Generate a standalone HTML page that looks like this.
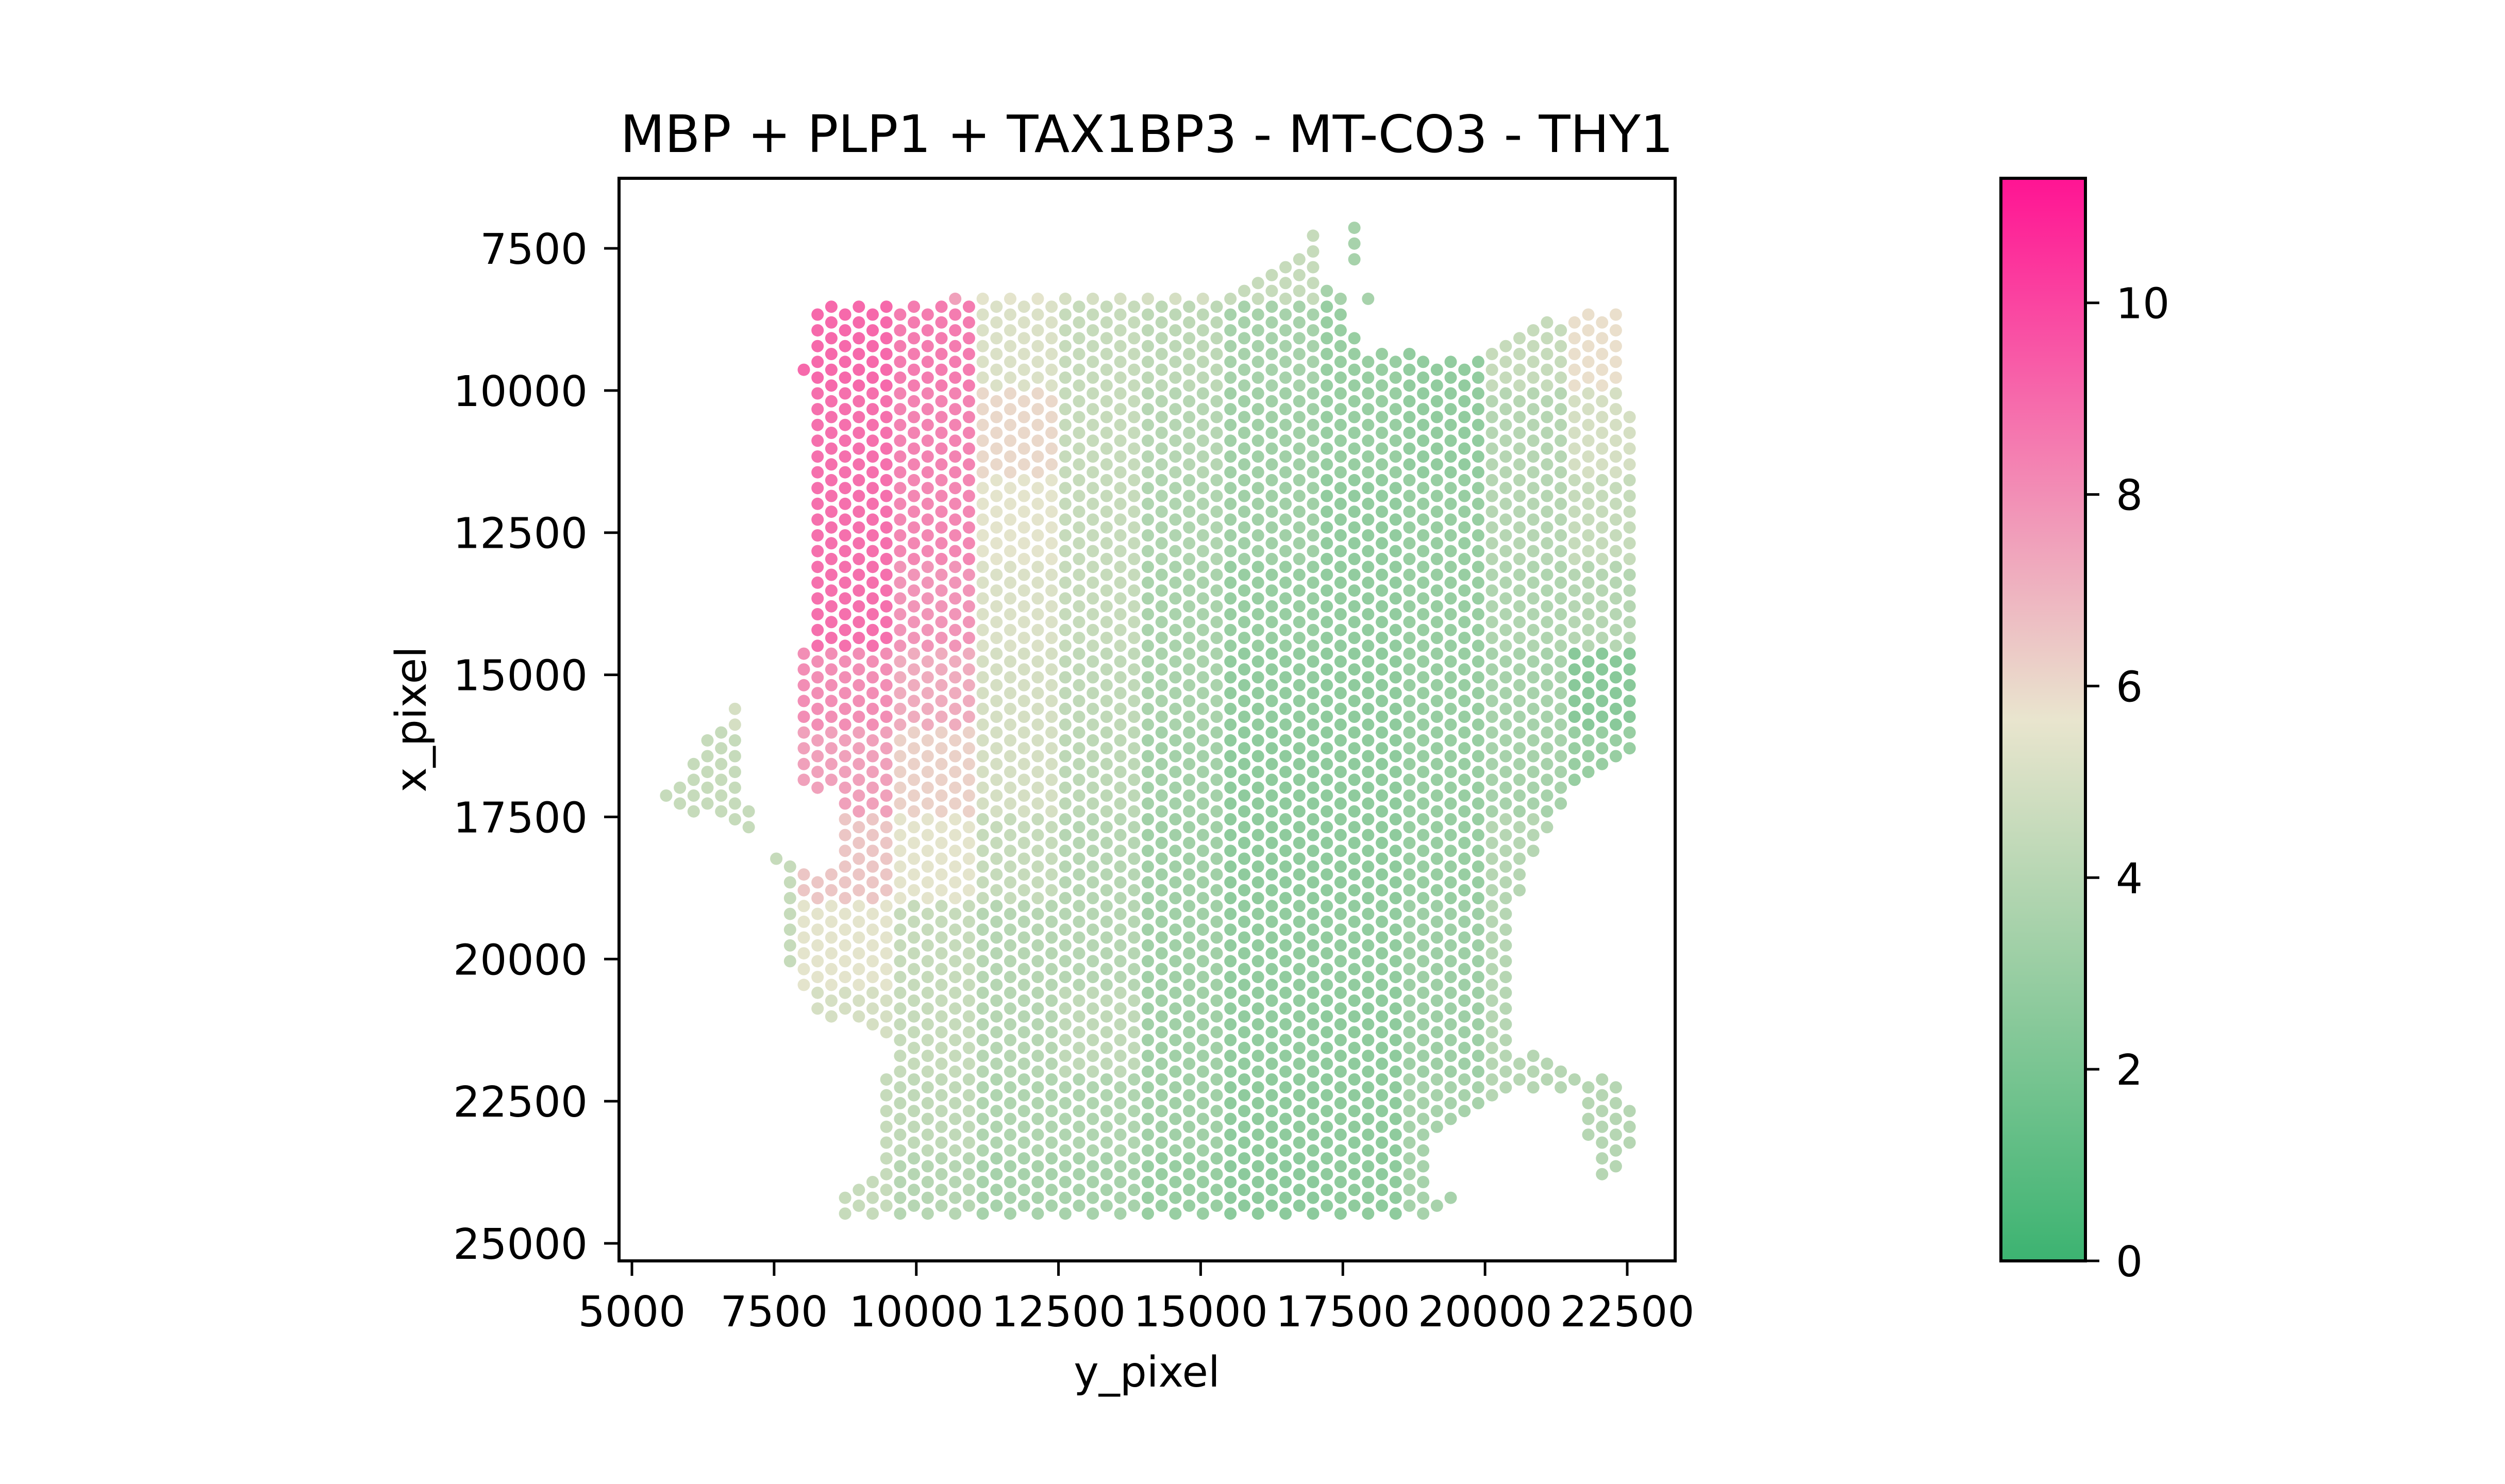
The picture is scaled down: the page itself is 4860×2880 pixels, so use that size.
<!DOCTYPE html>
<html><head><meta charset="utf-8"><style>
html,body{margin:0;padding:0;background:#fff}
svg{display:block}
text{font-family:"DejaVu Sans","Liberation Sans",sans-serif;fill:#000}
</style></head><body>
<svg id="chart" xmlns="http://www.w3.org/2000/svg" width="4860" height="2880" viewBox="0 0 4860 2880">
<defs>
<linearGradient id="cbgrad" x1="0" y1="1" x2="0" y2="0">
<stop offset="0" stop-color="#3cb371"/>
<stop offset="0.5" stop-color="#e9e5ce"/>
<stop offset="1" stop-color="#ff1493"/>
</linearGradient>
</defs>
<rect x="0" y="0" width="4860" height="2880" fill="#fff"/>
<text x="2225" y="295" font-size="100" text-anchor="middle">MBP + PLP1 + TAX1BP3 - MT-CO3 - THY1</text>
<g id="spots"></g>
<rect x="1201" y="346" width="2049" height="2101" fill="none" stroke="#000" stroke-width="6"/>
<g id="xticks"></g>
<g id="yticks"></g>
<text x="2225" y="2691" font-size="82" text-anchor="middle">y_pixel</text>
<text x="0" y="0" font-size="82" text-anchor="middle" transform="translate(826,1396) rotate(-90)">x_pixel</text>
<rect x="3882" y="346" width="164" height="2101" fill="url(#cbgrad)" stroke="#000" stroke-width="6"/>
<g id="cbticks"></g>
</svg>
<script>
// ---- chart data ----
const xTickValues = [5000, 7500, 10000, 12500, 15000, 17500, 20000, 22500];
const yTickValues = [7500, 10000, 12500, 15000, 17500, 20000, 22500, 25000];
const cbTickValues = [0, 2, 4, 6, 8, 10];
const colorMin = 0;
const colorMax = 11.3;
// tissue outline (y_pixel, x_pixel) in data coordinates
const tissueOutlineY = [7919,8146,8146,10657,10657,15281,16550,16958,17185,17185,17547,17819,19270,19814,20539,21627,22398,22398,22670,22670,21627,21174,20766,20467,20467,21536,22171,22670,22670,22443,22443,22171,21944,21944,21718,21718,21446,20539,20222,19814,19043,19043,19497,19497,19179,8645,8645,9116,9352,9352,9596,9370,8935,8164,7919,7665,7665,7439,7439,8391,8645,8645,8164,7919,7919,8146,8146,7919];
const tissueOutlineX = [9522,9522,8434,8434,8298,8298,7709,7255,7255,8207,8388,9204,9386,9522,8932,8615,8660,10383,10383,16457,16956,17772,18497,19449,21534,21987,22033,22849,23347,23347,23800,23909,23909,23211,23211,22350,22305,22259,22486,22758,23211,24254,24118,24344,24598,24598,24254,23800,23755,22259,21670,21262,21081,20990,20537,20129,18542,18361,18089,18452,18452,17182,16956,16820,14417,14417,9748,9748];
const islandOutlineY = [5535,6759,6940,6940,7167,7167,6940,5535];
const islandOutlineX = [17137,15505,15505,17092,17273,17745,17745,17200];
const outlierBoxA = [17620, 7050, 17760, 7900];
const outlierBoxB = [17900, 8150, 18100, 8450];
// zone values (score), rows of x_pixel from 7000 step 1500, cols of y_pixel from 5000 step 1500
const zoneRow0  = [5,5,8.8,7.5,5.5,5,5,4.5,3.5,4,5,5];
const zoneRow1  = [5,5,9,8.5,5.2,4.5,4.2,3.5,3,2.8,4.5,5.8];
const zoneRow2  = [5,5,8.8,8.3,6,4.5,4,3.3,3,2.8,4,5];
const zoneRow3  = [5,5,8.8,8.2,5.5,4.5,3.8,3.3,2.8,3,4,4.5];
const zoneRow4  = [5,5,8.8,7.8,5.2,4.5,3.6,3,2.8,3,3.8,4];
const zoneRow5  = [5,5,8,7.2,5,4.3,3.6,2.8,2.7,3,3.5,2.5];
const zoneRow6  = [4.5,4.5,7.5,6.2,5,4.2,3.4,2.7,2.7,3,3.5,3];
const zoneRow7  = [4.5,4.5,6.5,5.5,4.5,4,3.3,2.7,2.7,3,4,4];
const zoneRow8  = [4.5,4.5,5.5,4.5,4,4,3.3,2.8,2.8,3.2,4,4];
const zoneRow9  = [4.5,4.5,5,4.5,4,4.3,3.3,2.8,2.7,3.2,4,4];
const zoneRow10 = [4.5,4.5,4.5,4.3,3.8,3.8,3.3,2.7,2.7,3.5,4,4];
const zoneRow11 = [4.5,4.5,4.5,4,3.5,3.5,3,2.6,2.7,3.5,4,4];
const zoneRows = [zoneRow0,zoneRow1,zoneRow2,zoneRow3,zoneRow4,zoneRow5,zoneRow6,zoneRow7,zoneRow8,zoneRow9,zoneRow10,zoneRow11];

// ---- axes ----
const NS = "http://www.w3.org/2000/svg";
const ppu = 1931 / 17500;
const sx = v => 1226 + (v - 5000) * ppu;
const sy = v => 482 + (v - 7500) * ppu;
const cy = v => 2447 - (v - colorMin) / (colorMax - colorMin) * 2101;

function mk(tag, attrs) { const e = document.createElementNS(NS, tag); for (const k in attrs) e.setAttribute(k, attrs[k]); return e; }

const xg = document.getElementById('xticks');
xTickValues.forEach(v => {
  const t = mk('line', {x1: sx(v), x2: sx(v), y1: 2447, y2: 2476, stroke: '#000', 'stroke-width': 5});
  
  
  xg.appendChild(t);
  const l = mk('text', {x: sx(v), y: 2574, 'font-size': 82, 'text-anchor': 'middle'});
  l.textContent = v;
  
  
  xg.appendChild(l);
});
const yg = document.getElementById('yticks');
yTickValues.forEach(v => {
  const t = mk('line', {x1: 1172, x2: 1201, y1: sy(v), y2: sy(v), stroke: '#000', 'stroke-width': 5});
  
  
  yg.appendChild(t);
  const l = mk('text', {x: 1140, y: sy(v) + 30, 'font-size': 82, 'text-anchor': 'end'});
  l.textContent = v;
  
  
  yg.appendChild(l);
});
const cg = document.getElementById('cbticks');
cbTickValues.forEach(v => {
  const t = mk('line', {x1: 4046, x2: 4073, y1: cy(v), y2: cy(v), stroke: '#000', 'stroke-width': 5});
  
  
  cg.appendChild(t);
  const l = mk('text', {x: 4105, y: cy(v) + 30, 'font-size': 82});
  l.textContent = v;
  
  
  cg.appendChild(l);
});

// ---- colormap ----
function color(v) {
  const t = Math.max(0, Math.min(1, (v - colorMin) / (colorMax - colorMin)));
  const a = [60,179,113], m = [233,229,206], b = [255,20,147];
  let c;
  if (t < 0.5) { const u = t / 0.5; c = a.map((x,i) => Math.round(x + (m[i]-x)*u)); }
  else { const u = (t - 0.5) / 0.5; c = m.map((x,i) => Math.round(x + (b[i]-x)*u)); }
  return 'rgb(' + c.join(',') + ')';
}
function inPoly(py, px, PY, PX) {
  let inside = false;
  for (let i = 0, j = PY.length - 1; i < PY.length; j = i++) {
    if ((PX[i] > px) !== (PX[j] > px) && py < (PY[j]-PY[i]) * (px-PX[i]) / (PX[j]-PX[i]) + PY[i]) inside = !inside;
  }
  return inside;
}
function inBox(y, x, b) { return y >= b[0] && y <= b[2] && x >= b[1] && x <= b[3]; }
function zoneValue(y, x) {
  let r = Math.floor((x - 7000) / 1500), c = Math.floor((y - 5000) / 1500);
  r = Math.max(0, Math.min(zoneRows.length - 1, r));
  c = Math.max(0, Math.min(zoneRows[0].length - 1, c));
  return zoneRows[r][c];
}

// ---- spots on hex grid ----
const sg = document.getElementById('spots');
const colStep = 242, rowStep = 138.7, y0 = 8506, x0 = 8803;
for (let c = -14; c <= 60; c++) {
  for (let r = -16; r <= 125; r++) {
    if (((r - c) % 2 + 2) % 2 !== 0) continue;
    const yd = y0 + c * colStep, xd = x0 + r * rowStep;
    const ok = inPoly(yd, xd, tissueOutlineY, tissueOutlineX) || inPoly(yd, xd, islandOutlineY, islandOutlineX) || inBox(yd, xd, outlierBoxA) || inBox(yd, xd, outlierBoxB);
    if (!ok) continue;
    const v = zoneValue(yd, xd);
    const s = mk('circle', {cx: sx(yd).toFixed(1), cy: sy(xd).toFixed(1), r: 12, fill: color(v)});
    
    
    sg.appendChild(s);
  }
}
</script>
</body></html>
